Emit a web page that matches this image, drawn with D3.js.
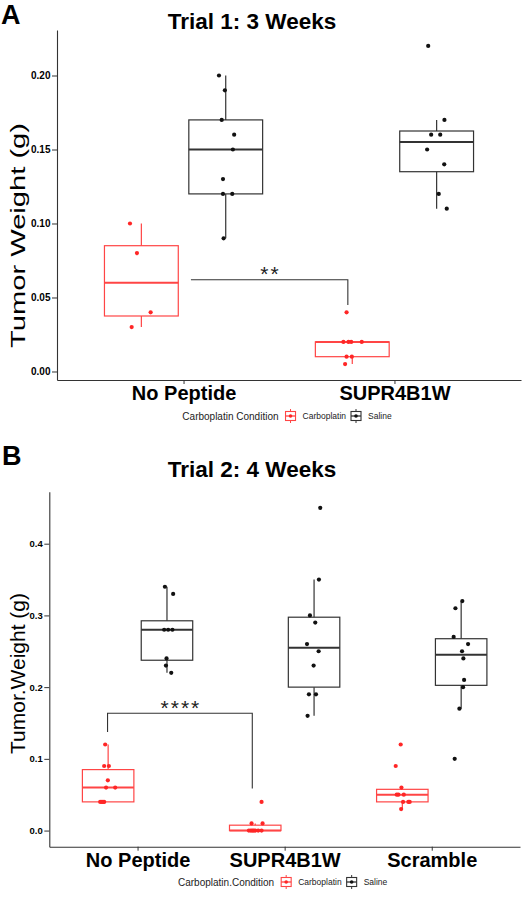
<!DOCTYPE html>
<html><head><meta charset="utf-8">
<script src="https://cdn.jsdelivr.net/npm/d3@7"></script>
<style>
body{margin:0;background:#fff}
svg{display:block}
text{font-family:"Liberation Sans",Arial,Helvetica,sans-serif}
</style>
</head><body>
<svg id="c" width="524" height="901"></svg>
<script>
// ---------- shared ----------
const conditions = ["Carboplatin", "Saline"];
const pointColor = {Carboplatin: "#ff2626", Saline: "#111111"};
const boxColor = {Carboplatin: "#ff4545", Saline: "#333333"};

// ---------- Panel A data ----------
const catsA = ["No Peptide", "SUPR4B1W"];
const carboA = [[0.10, 0.08, 0.04, 0.03], [0.04, 0.02, 0.02, 0.02, 0.02, 0.01, 0.01, 0.005]];
const carboJitA = [[-0.054, -0.021, 0.044, -0.046], [-0.027, -0.042, -0.018, -0.005, 0.045, -0.027, -0.002, -0.034]];
const salineA = [[0.20, 0.19, 0.17, 0.16, 0.15, 0.13, 0.12, 0.12, 0.09], [0.22, 0.17, 0.16, 0.16, 0.15, 0.14, 0.12, 0.11]];
const salineJitA = [[-0.032, -0.004, -0.019, 0.040, 0.034, -0.013, -0.013, 0.031, -0.010], [-0.040, 0.037, -0.026, 0.017, -0.045, 0.036, 0.010, 0.048]];
const yTicksA = [0, 0.05, 0.10, 0.15, 0.20];
const yTickLabelsA = ["0.00", "0.05", "0.10", "0.15", "0.20"];
const bracketA = {from: "No Peptide", fromOff: 0.035, to: "SUPR4B1W", toOff: -0.221, y: 0.062, yLeft: 0.062, yRight: 0.045, label: "**"};

// ---------- Panel B data ----------
const catsB = ["No Peptide", "SUPR4B1W", "Scramble"];
const carboB = [
  [0.12, 0.09, 0.09, 0.07, 0.06, 0.06, 0.04, 0.04, 0.04, 0.04],
  [0.04, 0.01, 0.01, 0, 0, 0, 0, 0, 0, 0],
  [0.12, 0.09, 0.06, 0.05, 0.05, 0.05, 0.04, 0.04, 0.04, 0.03]
];
const carboJitB = [
  [-0.020, -0.027, 0.005, -0.002, -0.014, 0.048, -0.054, -0.043, -0.027, -0.035],
  [0.043, -0.025, 0.050, -0.043, -0.030, -0.020, -0.010, 0.000, 0.020, 0.043],
  [-0.011, -0.045, -0.006, -0.038, -0.027, 0.010, 0.005, 0.050, 0.041, -0.008]
];
const salineB = [
  [0.34, 0.33, 0.28, 0.28, 0.28, 0.24, 0.23, 0.22],
  [0.45, 0.35, 0.30, 0.29, 0.26, 0.25, 0.23, 0.19, 0.19, 0.16],
  [0.32, 0.31, 0.27, 0.26, 0.25, 0.24, 0.21, 0.20, 0.17, 0.10]
];
const salineJitB = [
  [-0.014, 0.042, -0.019, 0.037, 0.008, -0.003, -0.007, 0.029],
  [0.042, 0.033, -0.028, 0.008, -0.048, 0.031, -0.003, -0.035, 0.013, -0.044],
  [0.008, -0.039, -0.051, 0.047, 0.006, 0.015, 0.020, 0.013, -0.012, -0.044]
];
const yTicksB = [0, 0.1, 0.2, 0.3, 0.4];
const yTickLabelsB = ["0.0", "0.1", "0.2", "0.3", "0.4"];
const bracketB = {from: "No Peptide", fromOff: -0.204, to: "SUPR4B1W", toOff: -0.22, y: 0.1636, yLeft: 0.1375, yRight: 0.0586, label: "****"};

const svg = d3.select("#c");

function boxStats(vals) {
  const s = vals.slice().sort(d3.ascending);
  const q1 = d3.quantile(s, 0.25), med = d3.quantile(s, 0.5), q3 = d3.quantile(s, 0.75);
  const iqr = q3 - q1;
  const lo = d3.min(s.filter(v => v >= q1 - 1.5 * iqr));
  const hi = d3.max(s.filter(v => v <= q3 + 1.5 * iqr));
  return {q1, med, q3, lo, hi};
}

function drawPanel(cfg) {
  const g = svg.append("g");
  const x = d3.scalePoint().domain(cfg.cats).range(cfg.xRange).padding(0.6);
  const unit = x.step();
  const allVals = cfg.carbo.flat().concat(cfg.saline.flat());
  const [mn, mx] = d3.extent(allVals);
  const pad = (mx - mn) * 0.05;
  const y = d3.scaleLinear().domain([mn - pad, mx + pad]).range(cfg.yRange);

  // letter & title
  g.append("text").attr("x", cfg.letterPos[0]).attr("y", cfg.letterPos[1])
    .attr("font-size", 27).attr("font-weight", "bold").text(cfg.letter);
  g.append("text").attr("x", 252).attr("y", cfg.titleY).attr("text-anchor", "middle")
    .attr("font-size", 22.5).attr("font-weight", "bold").text(cfg.title);

  // axes
  const ax = g.append("g").attr("transform", `translate(0,${cfg.yRange[0]})`)
    .call(d3.axisBottom(x).tickSize(4).tickSizeOuter(0));
  ax.select(".domain").attr("stroke", "#333").attr("stroke-width", 1.1);
  ax.selectAll(".tick line").attr("stroke", "#333");
  ax.selectAll(".tick text").attr("y", 20).attr("dy", null)
    .attr("font-size", 20).attr("font-weight", "bold").attr("fill", "#000")
    .attr("font-family", "'Liberation Sans',Arial,sans-serif");

  const ay = g.append("g").attr("transform", `translate(${cfg.xRange[0]},0)`)
    .call(d3.axisLeft(y).tickValues(cfg.yTicks).tickFormat((d, i) => cfg.yTickLabels[i]).tickSize(5).tickPadding(1.5).tickSizeOuter(0));
  ay.select(".domain").attr("stroke", "#333").attr("stroke-width", 1.1);
  ay.selectAll(".tick line").attr("stroke", "#333");
  ay.selectAll(".tick text").attr("font-size", cfg.tickFont).attr("font-weight", "bold").attr("fill", "#000")
    .attr("font-family", "'Liberation Sans',Arial,sans-serif");

  // y label
  g.append("text").attr("transform", `translate(${cfg.yLabelX},${cfg.yLabelY}) rotate(-90)`)
    .attr("text-anchor", "middle").attr("font-size", 21)
    .attr("textLength", cfg.yLabelLen).attr("lengthAdjust", "spacingAndGlyphs")
    .text(cfg.yLabel);

  // boxes
  const bw = 0.35 * unit, dodge = 0.2 * unit;
  const groups = [];
  cfg.cats.forEach((c, i) => {
    groups.push({cond: "Carboplatin", cx: x(c) - dodge, vals: cfg.carbo[i], jit: cfg.carboJit[i]});
    groups.push({cond: "Saline", cx: x(c) + dodge, vals: cfg.saline[i], jit: cfg.salineJit[i]});
  });
  groups.forEach(gr => {
    const st = boxStats(gr.vals);
    const col = boxColor[gr.cond];
    const bg = g.append("g").attr("stroke", col).attr("fill", "none");
    bg.append("line").attr("x1", gr.cx).attr("x2", gr.cx).attr("y1", y(st.q3)).attr("y2", y(st.hi)).attr("stroke-width", 1.2);
    bg.append("line").attr("x1", gr.cx).attr("x2", gr.cx).attr("y1", y(st.q1)).attr("y2", y(st.lo)).attr("stroke-width", 1.2);
    bg.append("rect").attr("x", gr.cx - bw / 2).attr("width", bw)
      .attr("y", y(st.q3)).attr("height", Math.max(0.5, y(st.q1) - y(st.q3))).attr("stroke-width", 1.2);
    bg.append("line").attr("x1", gr.cx - bw / 2).attr("x2", gr.cx + bw / 2)
      .attr("y1", y(st.med)).attr("y2", y(st.med)).attr("stroke-width", 2);
  });
  groups.forEach(gr => {
    g.append("g").selectAll("circle").data(gr.vals).join("circle")
      .attr("cx", (d, i) => gr.cx + gr.jit[i] * unit)
      .attr("cy", d => y(d)).attr("r", 2.1).attr("fill", pointColor[gr.cond]);
  });

  // significance bracket
  const b = cfg.bracket;
  const bx1 = x(b.from) + b.fromOff * unit, bx2 = x(b.to) + b.toOff * unit;
  g.append("path")
    .attr("d", `M${bx1},${y(b.yLeft)}V${y(b.y)}H${bx2}V${y(b.yRight)}`)
    .attr("fill", "none").attr("stroke", "#333").attr("stroke-width", 1.1);
  g.append("text").attr("x", (bx1 + bx2) / 2 + 1).attr("y", y(b.y) + cfg.starDy)
    .attr("text-anchor", "middle").attr("font-size", 21).attr("letter-spacing", 2)
    .attr("fill", "#222").text(b.label);

  // legend
  const lg = g.append("g");
  const t = lg.append("text").attr("x", 0).attr("y", 3.5).attr("font-size", 10).attr("fill", "#222").text(cfg.legendTitle);
  let cur = t.node().getComputedTextLength() + 6;
  conditions.forEach(cond => {
    const k = lg.append("g").attr("transform", `translate(${cur},0)`).attr("stroke", boxColor[cond]).attr("fill", "none");
    k.append("line").attr("x1", 6).attr("x2", 6).attr("y1", -7).attr("y2", 7).attr("stroke-width", 1);
    k.append("rect").attr("x", 1).attr("y", -4.5).attr("width", 10).attr("height", 9).attr("fill", "#fff").attr("stroke-width", 1.1);
    k.append("line").attr("x1", 1).attr("x2", 11).attr("y1", 0).attr("y2", 0).attr("stroke-width", 1.3);
    k.append("circle").attr("cx", 6).attr("cy", 0).attr("r", 1.8).attr("fill", pointColor[cond]).attr("stroke", "none");
    cur += 12 + 6;
    const lt = lg.append("text").attr("x", cur).attr("y", 3).attr("font-size", 8.5).attr("fill", "#222").text(cond);
    cur += lt.node().getComputedTextLength() + 4;
  });
  const center = (cfg.xRange[0] + cfg.xRange[1]) / 2;
  lg.attr("transform", `translate(${center - cur / 2},${cfg.legendY})`);
}

drawPanel({
  cats: catsA, carbo: carboA, carboJit: carboJitA, saline: salineA, salineJit: salineJitA,
  yTicks: yTicksA, yTickLabels: yTickLabelsA, bracket: bracketA,
  xRange: [57, 521], yRange: [380, 30], tickFont: 10,
  letter: "A", letterPos: [1, 24], title: "Trial 1: 3 Weeks", titleY: 29,
  yLabel: "Tumor Weight (g)", yLabelX: 25, yLabelY: 235.5, yLabelLen: 225,
  legendTitle: "Carboplatin Condition", legendY: 416, starDy: 1
});

drawPanel({
  cats: catsB, carbo: carboB, carboJit: carboJitB, saline: salineB, salineJit: salineJitB,
  yTicks: yTicksB, yTickLabels: yTickLabelsB, bracket: bracketB,
  xRange: [49.3, 520], yRange: [846.7, 491.7], tickFont: 9.5,
  letter: "B", letterPos: [2, 465], title: "Trial 2: 4 Weeks", titleY: 477,
  yLabel: "Tumor.Weight (g)", yLabelX: 25, yLabelY: 673.5, yLabelLen: 161,
  legendTitle: "Carboplatin.Condition", legendY: 882, starDy: 2
});
</script>
</body></html>
